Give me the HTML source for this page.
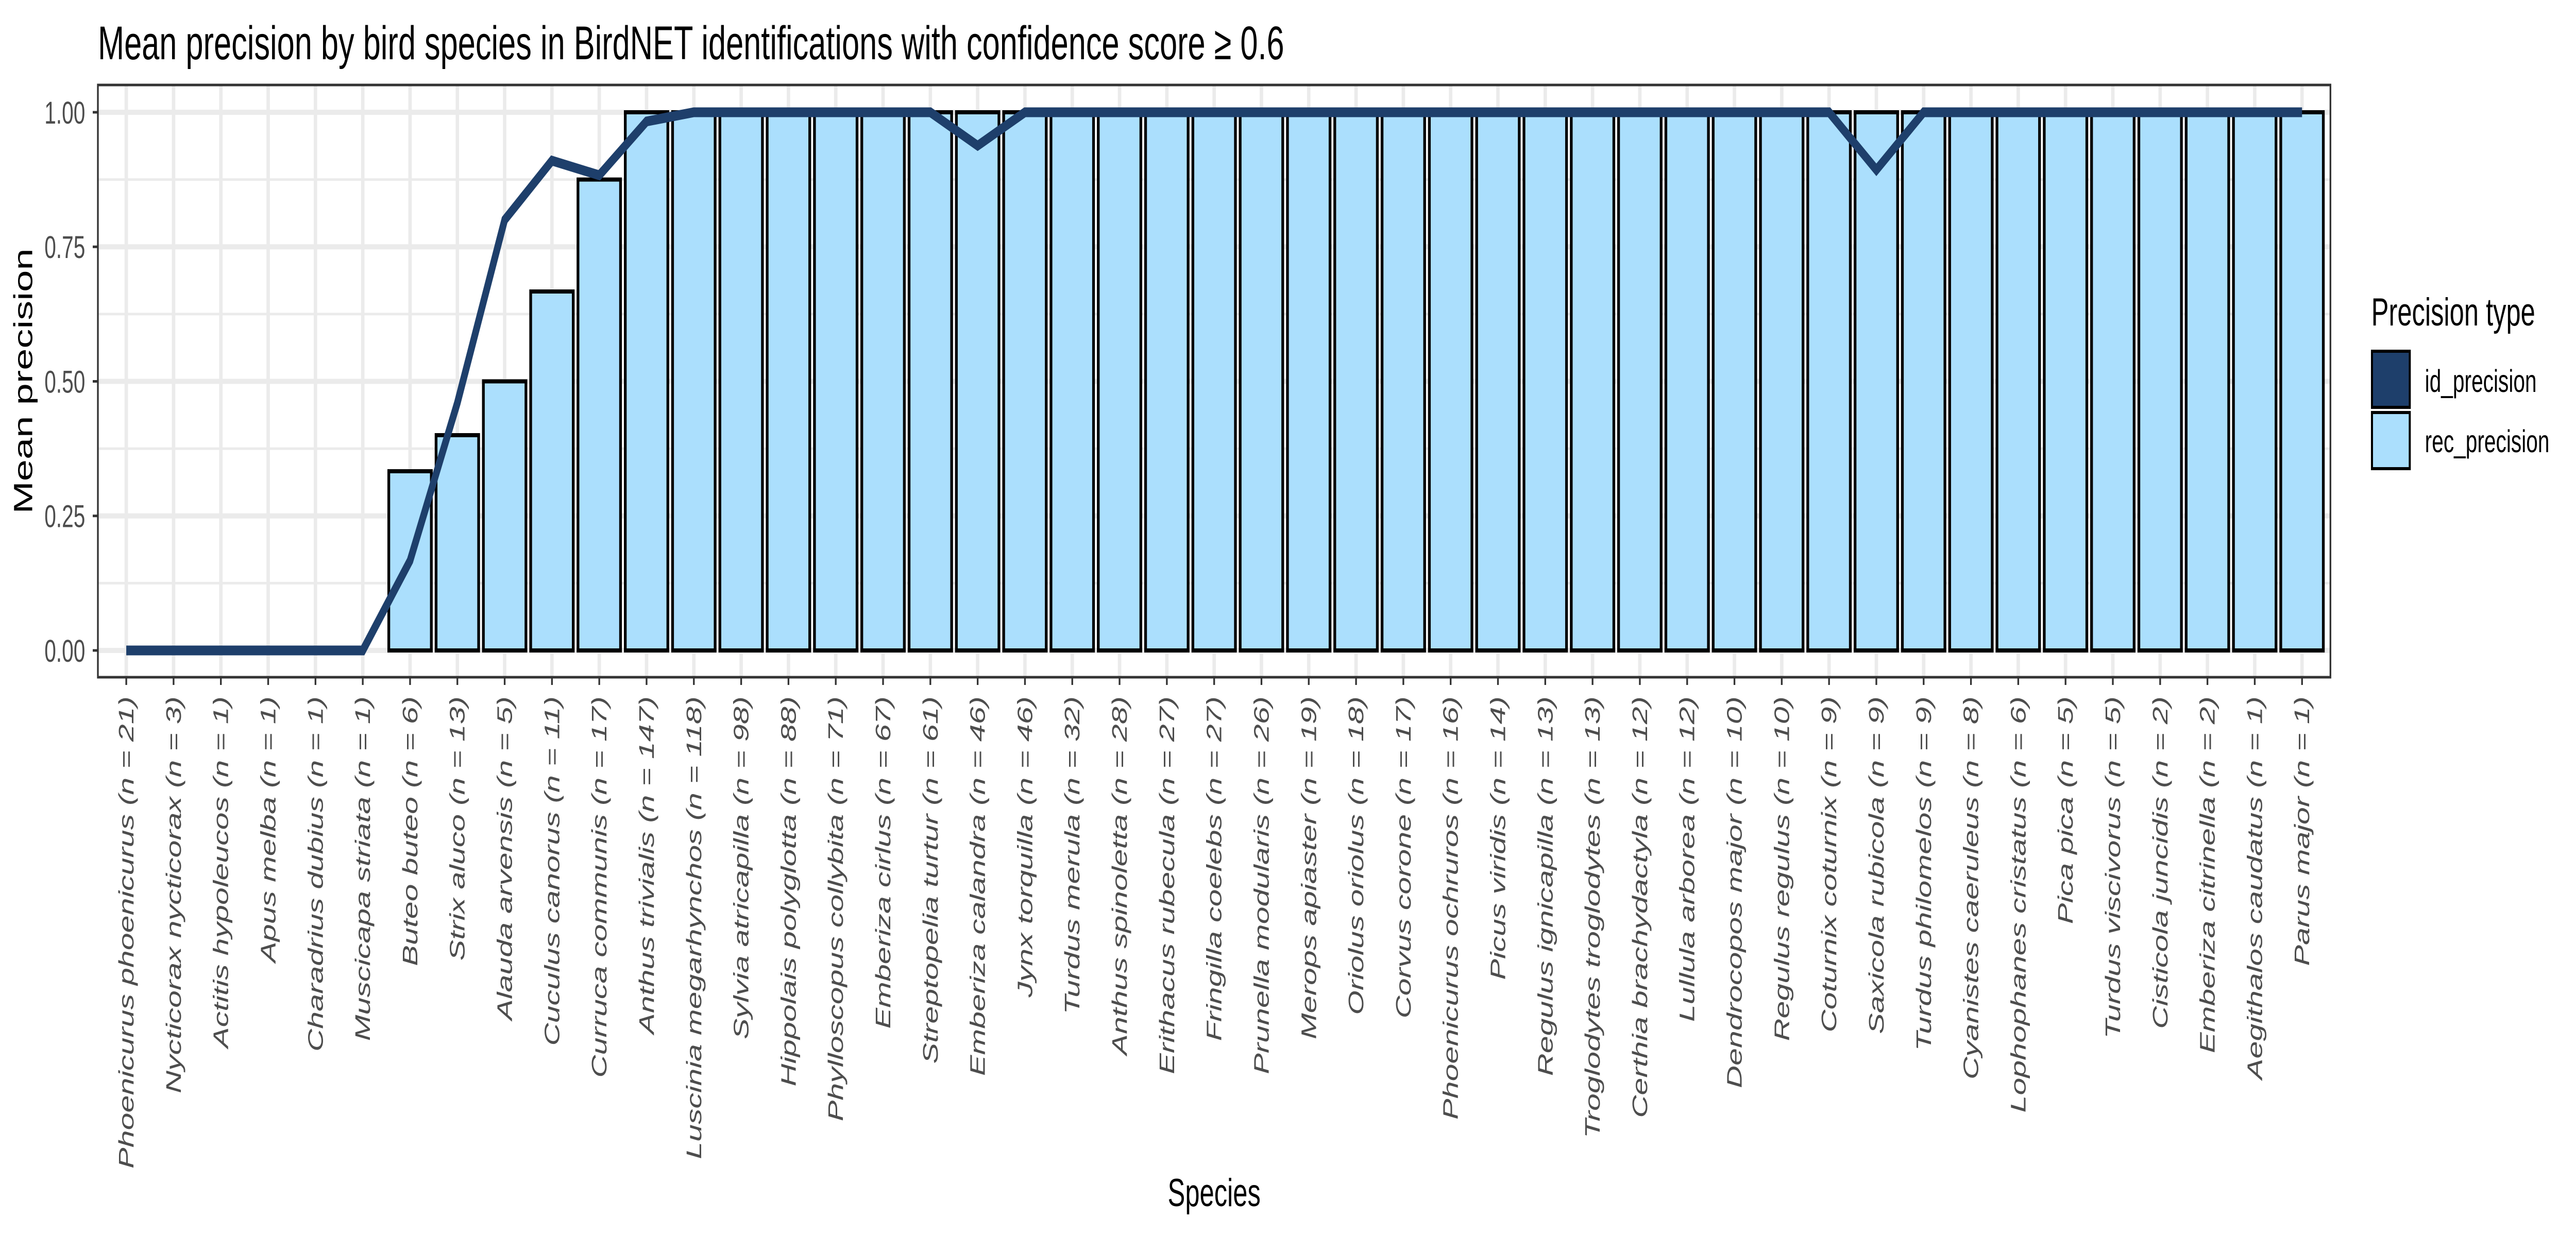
<!DOCTYPE html>
<html><head><meta charset="utf-8"><style>
html,body{margin:0;padding:0;background:#fff;width:100%;height:100%;overflow:hidden;}
svg{display:block;font-family:"Liberation Sans",sans-serif;width:100vw;height:100vh;}
</style></head><body>
<svg id="chart" viewBox="0 0 7500 2400" preserveAspectRatio="none" xmlns="http://www.w3.org/2000/svg">
<rect x="0" y="0" width="7500" height="2400" fill="#fff"/>
<text x="285" y="115" font-size="92" fill="#000">Mean precision by bird species in BirdNET identifications with confidence score ≥ 0.6</text>
<g id="grid"></g>
<g id="bars"></g>
<g id="line"></g>
<rect x="285" y="165" width="6500" height="1150" fill="none" stroke="#333" stroke-width="5"/>
<g id="yaxis"></g>
<g id="xaxis"></g>
<text transform="translate(94,740) rotate(-90)" text-anchor="middle" font-size="76" fill="#000">Mean precision</text>
<text x="3535" y="2342" text-anchor="middle" font-size="76" fill="#000">Species</text>
<g>
<text x="6904" y="632" font-size="76" fill="#000">Precision type</text>
<rect x="6906" y="682" width="110" height="109" fill="#1E3F6B" stroke="#000" stroke-width="6"/>
<rect x="6906" y="801" width="110" height="109" fill="#ABDFFD" stroke="#000" stroke-width="6"/>
<text x="7060" y="761" font-size="61" fill="#000">id_precision</text>
<text x="7060" y="878" font-size="61" fill="#000">rec_precision</text>
</g>
</svg>
<script>
const species = ["Phoenicurus phoenicurus","Nycticorax nycticorax","Actitis hypoleucos","Apus melba","Charadrius dubius","Muscicapa striata","Buteo buteo","Strix aluco","Alauda arvensis","Cuculus canorus","Curruca communis","Anthus trivialis","Luscinia megarhynchos","Sylvia atricapilla","Hippolais polyglotta","Phylloscopus collybita","Emberiza cirlus","Streptopelia turtur","Emberiza calandra","Jynx torquilla","Turdus merula","Anthus spinoletta","Erithacus rubecula","Fringilla coelebs","Prunella modularis","Merops apiaster","Oriolus oriolus","Corvus corone","Phoenicurus ochruros","Picus viridis","Regulus ignicapilla","Troglodytes troglodytes","Certhia brachydactyla","Lullula arborea","Dendrocopos major","Regulus regulus","Coturnix coturnix","Saxicola rubicola","Turdus philomelos","Cyanistes caeruleus","Lophophanes cristatus","Pica pica","Turdus viscivorus","Cisticola juncidis","Emberiza citrinella","Aegithalos caudatus","Parus major"];
const counts = [21,3,1,1,1,1,6,13,5,11,17,147,118,98,88,71,67,61,46,46,32,28,27,27,26,19,18,17,16,14,13,13,12,12,10,10,9,9,9,8,6,5,5,2,2,1,1];
const recPrecision = [0,0,0,0,0,0,0.333,0.4,0.5,0.667,0.875,1,1,1,1,1,1,1,1,1,1,1,1,1,1,1,1,1,1,1,1,1,1,1,1,1,1,1,1,1,1,1,1,1,1,1,1];
const idPrecision = [0,0,0,0,0,0,0.167,0.46,0.8,0.91,0.883,0.983,1,1,1,1,1,1,0.938,1,1,1,1,1,1,1,1,1,1,1,1,1,1,1,1,1,1,0.893,1,1,1,1,1,1,1,1,1];
const yTicks = [0,0.25,0.5,0.75,1];
const yTickLabels = ["0.00","0.25","0.50","0.75","1.00"];

const NS = "http://www.w3.org/2000/svg";
const PL = 285, PR = 6785, PT = 165, PB = 1315;
const n = species.length;
const step = (PR - PL) / (n - 1 + 1.2);
function xScale(i){ return PL + step * (0.6 + i); }
function yScale(v){ return 1263 - v * 1045; }
function mk(tag, attrs, parent){ const e = document.createElementNS(NS, tag); for (const k in attrs) e.setAttribute(k, attrs[k]); parent.appendChild(e); return e; }

const grid = document.getElementById('grid');
mk('rect', {x:PL, y:PT, width:PR-PL, height:PB-PT, fill:'#fff'}, grid);
for (let k = 0; k < yTicks.length - 1; k++) {
  const v = (yTicks[k] + yTicks[k+1]) / 2;
  const l = mk('line', {x1:PL, x2:PR, y1:yScale(v), y2:yScale(v), stroke:'#ebebeb', 'stroke-width':5}, grid);
  
  
}
yTicks.forEach(v => {
  const l = mk('line', {x1:PL, x2:PR, y1:yScale(v), y2:yScale(v), stroke:'#ebebeb', 'stroke-width':10}, grid);
  
  
});
species.forEach((s, i) => {
  const l = mk('line', {x1:xScale(i), x2:xScale(i), y1:PT, y2:PB, stroke:'#ebebeb', 'stroke-width':10}, grid);
  
  
});

const bars = document.getElementById('bars');
const bw = step * 0.9;
recPrecision.forEach((v, i) => {
  const y0 = yScale(0), y1 = yScale(v);
  const r = mk('rect', {x:xScale(i) - bw/2, y:Math.min(y0,y1), width:bw, height:Math.abs(y0-y1), fill:'#ABDFFD', stroke:'#000', 'stroke-width':8}, bars);
  
  
});

const lineG = document.getElementById('line');
const pts = idPrecision.map((v, i) => xScale(i).toFixed(1) + ',' + yScale(v).toFixed(1)).join(' ');
const pl = mk('polyline', {points:pts, fill:'none', stroke:'#1E3F6B', 'stroke-width':19, 'stroke-linejoin':'miter'}, lineG);



const yaxis = document.getElementById('yaxis');
yTicks.forEach((v, k) => {
  const t = mk('line', {x1:270, x2:PL, y1:yScale(v), y2:yScale(v), stroke:'#333', 'stroke-width':5}, yaxis);
  
  
  const tx = mk('text', {x:248, y:yScale(v) + 22, 'text-anchor':'end', 'font-size':61, fill:'#4d4d4d'}, yaxis);
  tx.textContent = yTickLabels[k];
  
  
});

const xaxis = document.getElementById('xaxis');
species.forEach((s, i) => {
  const x = xScale(i);
  const t = mk('line', {x1:x, x2:x, y1:PB, y2:PB + 15, stroke:'#333', 'stroke-width':5}, xaxis);
  
  
  const tx = mk('text', {transform:'translate(' + (x + 21) + ',1352) rotate(-90)', 'text-anchor':'end', 'font-size':61, 'font-style':'italic', fill:'#4d4d4d'}, xaxis);
  tx.textContent = s + ' (n = ' + counts[i] + ')';
  
  
});
</script>
</body></html>
